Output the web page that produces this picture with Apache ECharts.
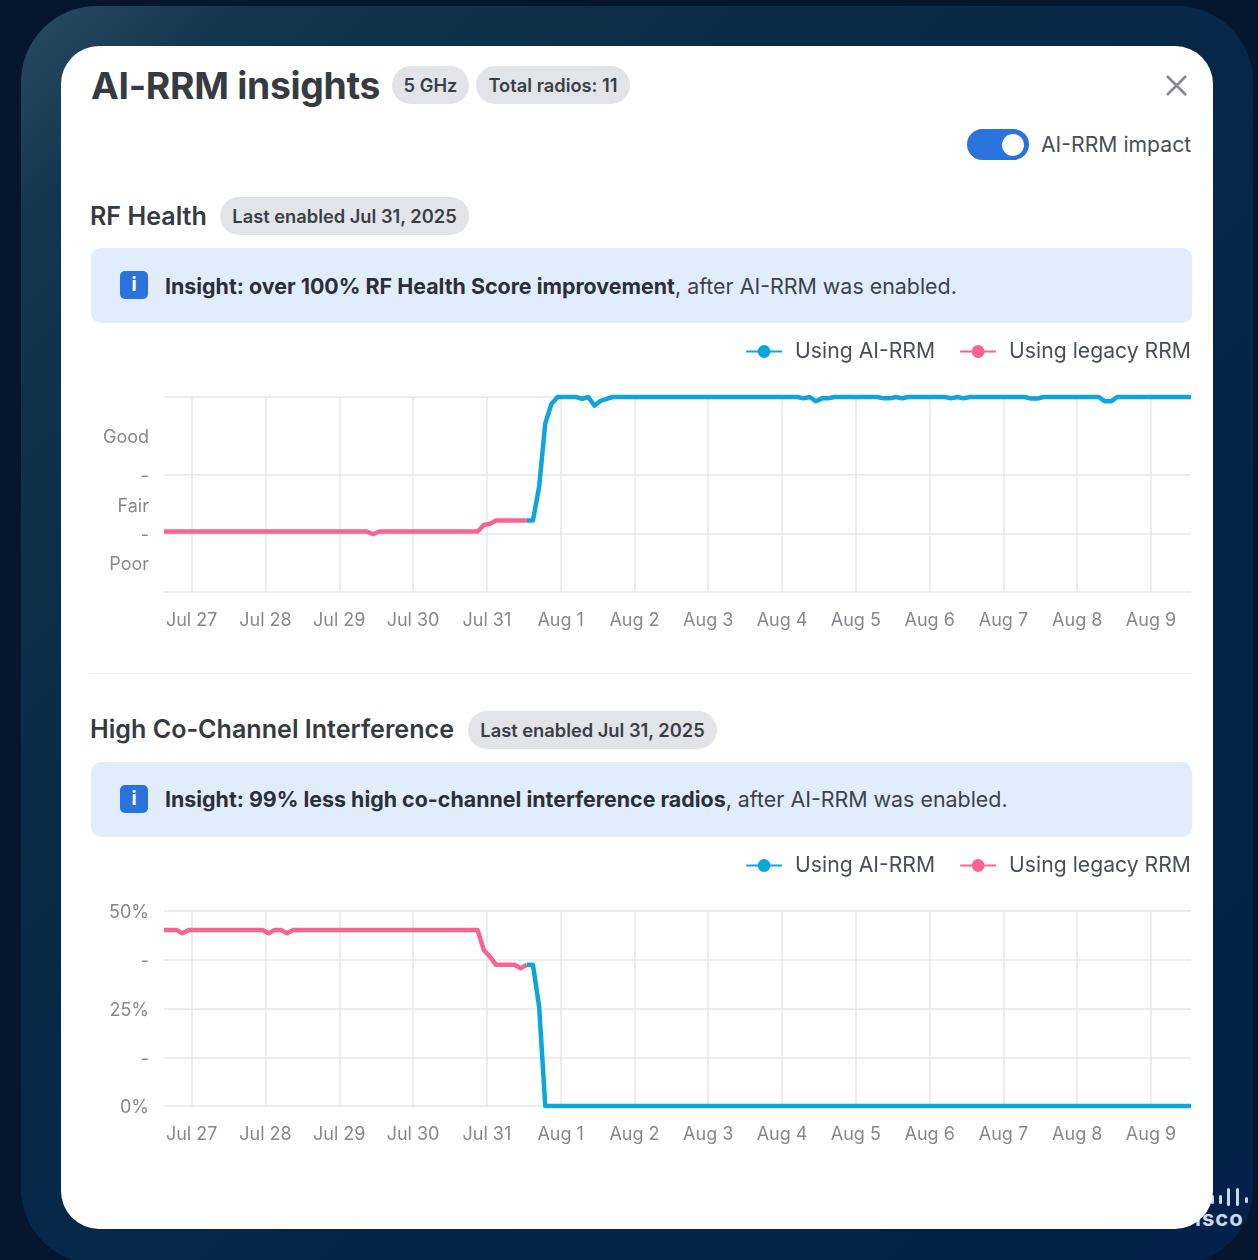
<!DOCTYPE html>
<html>
<head>
<meta charset="utf-8">
<title>AI-RRM insights</title>
<script src="https://cdn.jsdelivr.net/npm/echarts@6/dist/echarts.min.js"></script>
<style>
  html, body { margin: 0; padding: 0; background: #05162f; overflow: hidden; }
  body { width: 1258px; height: 1260px; position: relative; font-family: Inter, sans-serif; color: #3a3f47; }
  .abs { position: absolute; white-space: nowrap; }
  #frame { left: 21px; top: 6px; width: 1232px; height: 1258px; border-radius: 76px;
    background: linear-gradient(135deg, #2a4c61 0%, #12364e 9%, #0a2c46 30%, #03244a 70%, #03214a 100%); }
  #card { left: 61px; top: 46px; width: 1152px; height: 1183px; border-radius: 38px; background: #fff; }
  .bar { position: absolute; width: 3px; border-radius: 2px; background: #c9d8ea; }
  #cisco { left: 1181px; top: 1205px; font-size: 22px; line-height: 26px; font-weight: 700; color: #c9d8ea; letter-spacing: 1px; }
  #title { left: 91px; top: 62px; font-size: 37.3px; line-height: 48px; font-weight: 700; letter-spacing: -0.3px; color: #363b42; }
  .pill { height: 38px; line-height: 38px; border-radius: 19px; background: #e3e4e8; font-size: 18.3px; font-weight: 600; color: #3a3f47; text-align: center; }
  .section { left: 90px; font-size: 25.1px; line-height: 34px; font-weight: 600; color: #363b42; }
  .insight { left: 91px; width: 1101px; height: 75px; border-radius: 10px; background: #e1edfd; }
  .insight-icon { left: 120px; width: 28px; height: 28px; border-radius: 5px; background: #2a73dc; color: #fff; font: 700 19px/28px Inter, sans-serif; text-align: center; }
  .insight-text { left: 165px; font-size: 21.4px; line-height: 30px; color: #3d4249; }
  .insight-text b { font-weight: 700; color: #2b3037; }
  #toggle { left: 967px; top: 129px; width: 62px; height: 31px; border-radius: 16px; background: #2a73dc; }
  #knob { left: 1002px; top: 134px; width: 22px; height: 22px; border-radius: 50%; background: #fff; }
  #impact { left: 1041px; top: 129px; font-size: 21.2px; line-height: 31px; color: #4a4f57; }
  .chart { position: absolute; left: 61px; width: 1152px; height: 310px; }
  #rule { left: 91px; top: 673px; width: 1101px; height: 1px; background: #eceef1; }
</style>
</head>
<body>
<div class="abs" id="frame"></div>
<div class="bar" style="left:1211px;top:1195px;height:9px"></div>
<div class="bar" style="left:1219px;top:1195px;height:9px"></div>
<div class="bar" style="left:1227px;top:1188px;height:18px"></div>
<div class="bar" style="left:1236px;top:1188px;height:18px"></div>
<div class="bar" style="left:1245px;top:1197px;height:6px"></div>
<div class="abs" id="cisco">cisco</div>
<div class="abs" id="card"></div>

<div class="abs" id="title">AI-RRM insights</div>
<div class="abs pill" style="left:392px;top:66px;width:77px">5 GHz</div>
<div class="abs pill" style="left:476px;top:66px;width:154px">Total radios: 11</div>
<svg class="abs" style="left:1164px;top:73px" width="25" height="25"><path d="M3 3L22 22M22 3L3 22" stroke="#858a92" stroke-width="2.6"/></svg>
<div class="abs" id="toggle"></div>
<div class="abs" id="knob"></div>
<div class="abs" id="impact">AI-RRM impact</div>

<div class="abs section" style="top:199px">RF Health</div>
<div class="abs pill" style="left:220px;top:197px;width:249px">Last enabled Jul 31, 2025</div>
<div class="abs insight" style="top:248px"></div>
<div class="abs insight-icon" style="top:271px">i</div>
<div class="abs insight-text" style="top:271px"><b>Insight: over 100% RF Health Score improvement</b>, after AI-RRM was enabled.</div>

<div class="abs" id="rule"></div>

<div class="abs section" style="top:712px">High Co-Channel Interference</div>
<div class="abs pill" style="left:468px;top:711px;width:249px">Last enabled Jul 31, 2025</div>
<div class="abs insight" style="top:762px"></div>
<div class="abs insight-icon" style="top:785px">i</div>
<div class="abs insight-text" style="top:784px"><b>Insight: 99% less high co-channel interference radios</b>, after AI-RRM was enabled.</div>

<div class="chart" id="chartHealth" style="top:335px"></div>
<div class="chart" id="chartCci" style="top:849px"></div>

<script>
const dayTicks = ['07-27', '07-28', '07-29', '07-30', '07-31', '08-01', '08-02',
  '08-03', '08-04', '08-05', '08-06', '08-07', '08-08', '08-09'];

// RF Health score
const healthLegacyTimes = ['07-26T15', '07-29T09', '07-29T11', '07-29T13', '07-30T21', '07-30T23', '07-31T01', '07-31T03', '07-31T13'];
const healthLegacyValues = [31, 31, 29.6, 31, 31, 34.4, 35, 36.7, 36.7];

const healthAiTimes = ['07-31T13', '07-31T15', '07-31T17', '07-31T19', '07-31T21', '07-31T23',
  '08-01T05', '08-01T07', '08-01T09', '08-01T11', '08-01T13', '08-01T15', '08-01T17',
  '08-04T05', '08-04T07', '08-04T09', '08-04T11', '08-04T13', '08-04T15', '08-04T17',
  '08-05T07', '08-05T09', '08-05T11', '08-05T13', '08-05T15', '08-05T17',
  '08-06T05', '08-06T07', '08-06T09', '08-06T11', '08-06T13',
  '08-07T07', '08-07T09', '08-07T11', '08-07T13',
  '08-08T07', '08-08T09', '08-08T11', '08-08T13', '08-09T13'];
const healthAiValues = [36.7, 36.7, 54, 86.5, 96.4, 100,
  100, 99, 100, 95.6, 98, 99, 100,
  100, 99.3, 100, 97.8, 99.3, 99.3, 100,
  100, 99.3, 99.3, 100, 99.3, 100,
  100, 99.3, 100, 99.3, 100,
  100, 99.2, 99.2, 100,
  100, 97.8, 97.8, 100, 100];

const healthGridLines = [0, 30, 60, 100];
const healthLabelValues = [15, 30, 45, 60, 80];
const healthLabels = { 15: 'Poor', 30: '-', 45: 'Fair', 60: '-', 80: 'Good' };

// share of radios with high co-channel interference, %
const cciLegacyTimes = ['07-26T15', '07-26T19', '07-26T21', '07-26T23', '07-27T23', '07-28T01', '07-28T03', '07-28T05', '07-28T07', '07-28T09',
  '07-30T21', '07-30T23', '07-31T01', '07-31T03', '07-31T09', '07-31T11', '07-31T13'];
const cciLegacyValues = [45.1, 45.1, 44.3, 45.1, 45.1, 44.3, 45.1, 45.1, 44.3, 45.1,
  45.1, 40, 38.3, 36.2, 36.2, 35.3, 36.2];

const cciAiTimes = ['07-31T13', '07-31T15', '07-31T17', '07-31T19', '08-09T13'];
const cciAiValues = [36.2, 36.2, 25.5, 0, 0];

const cciGridLines = [0, 12.5, 25, 37.5, 50];
const cciLabels = { 0: '0%', 12.5: '-', 25: '25%', 37.5: '-', 50: '50%' };

const axisStart = '07-26T15';
const axisEnd = '08-09T13';

const toTime = s => Date.parse('2025-' + (s.length > 5 ? s : s + 'T00') + ':00Z');
const toPairs = (times, values) => times.map((t, i) => [toTime(t), values[i]]);

function buildOption(aiData, legacyData, yMax, gridLines, labelValues, labels) {
  const days = dayTicks.map(toTime);
  const gridColor = '#e6e7ec';
  return {
    animation: false,
    textStyle: { fontFamily: 'Inter, sans-serif' },
    grid: { left: 103, right: 22, top: 62, bottom: 53 },
    legend: {
      top: 6,
      right: 22,
      padding: 0,
      itemGap: 24,
      itemWidth: 36,
      itemHeight: 16,
      textStyle: { fontSize: 21.2, color: '#4a4f57', padding: [0, 0, 0, 8] },
      data: ['Using AI-RRM', 'Using legacy RRM']
    },
    // millisecond value axis: the time axis does not take customValues
    xAxis: {
      type: 'value',
      min: toTime(axisStart),
      max: toTime(axisEnd),
      axisLine: { show: false },
      axisTick: { show: false, customValues: days },
      splitLine: { show: true, lineStyle: { color: gridColor, width: 1.5 } },
      axisLabel: {
        customValues: days,
        margin: 20,
        fontSize: 18,
        color: '#85888f',
        formatter: v => echarts.time.format(v, '{MMM} {d}', true)
      }
    },
    yAxis: {
      type: 'value',
      min: 0,
      max: yMax,
      axisLine: { show: false },
      axisTick: { show: false, customValues: gridLines },
      splitLine: { show: true, lineStyle: { color: gridColor, width: 1.5 } },
      axisLabel: {
        customValues: labelValues,
        margin: 15,
        // rich block with top padding nudges the text just under its grid line
        rich: { t: { fontSize: 18, color: '#85888f', padding: [4, 0, 0, 0] } },
        formatter: v => '{t|' + labels[v] + '}'
      }
    },
    series: [
      {
        name: 'Using legacy RRM',
        type: 'line',
        color: '#f7648f',
        symbol: 'circle',
        showSymbol: false,
        clip: false,
        lineStyle: { width: 4.5, join: 'round' },
        data: legacyData
      },
      {
        name: 'Using AI-RRM',
        type: 'line',
        color: '#0ea5dd',
        symbol: 'circle',
        showSymbol: false,
        clip: false,
        lineStyle: { width: 4.5, join: 'round' },
        data: aiData
      }
    ]
  };
}

echarts.init(document.getElementById('chartHealth')).setOption(buildOption(
  toPairs(healthAiTimes, healthAiValues), toPairs(healthLegacyTimes, healthLegacyValues),
  100, healthGridLines, healthLabelValues, healthLabels));

echarts.init(document.getElementById('chartCci')).setOption(buildOption(
  toPairs(cciAiTimes, cciAiValues), toPairs(cciLegacyTimes, cciLegacyValues),
  50, cciGridLines, cciGridLines, cciLabels));
</script>
</body>
</html>
